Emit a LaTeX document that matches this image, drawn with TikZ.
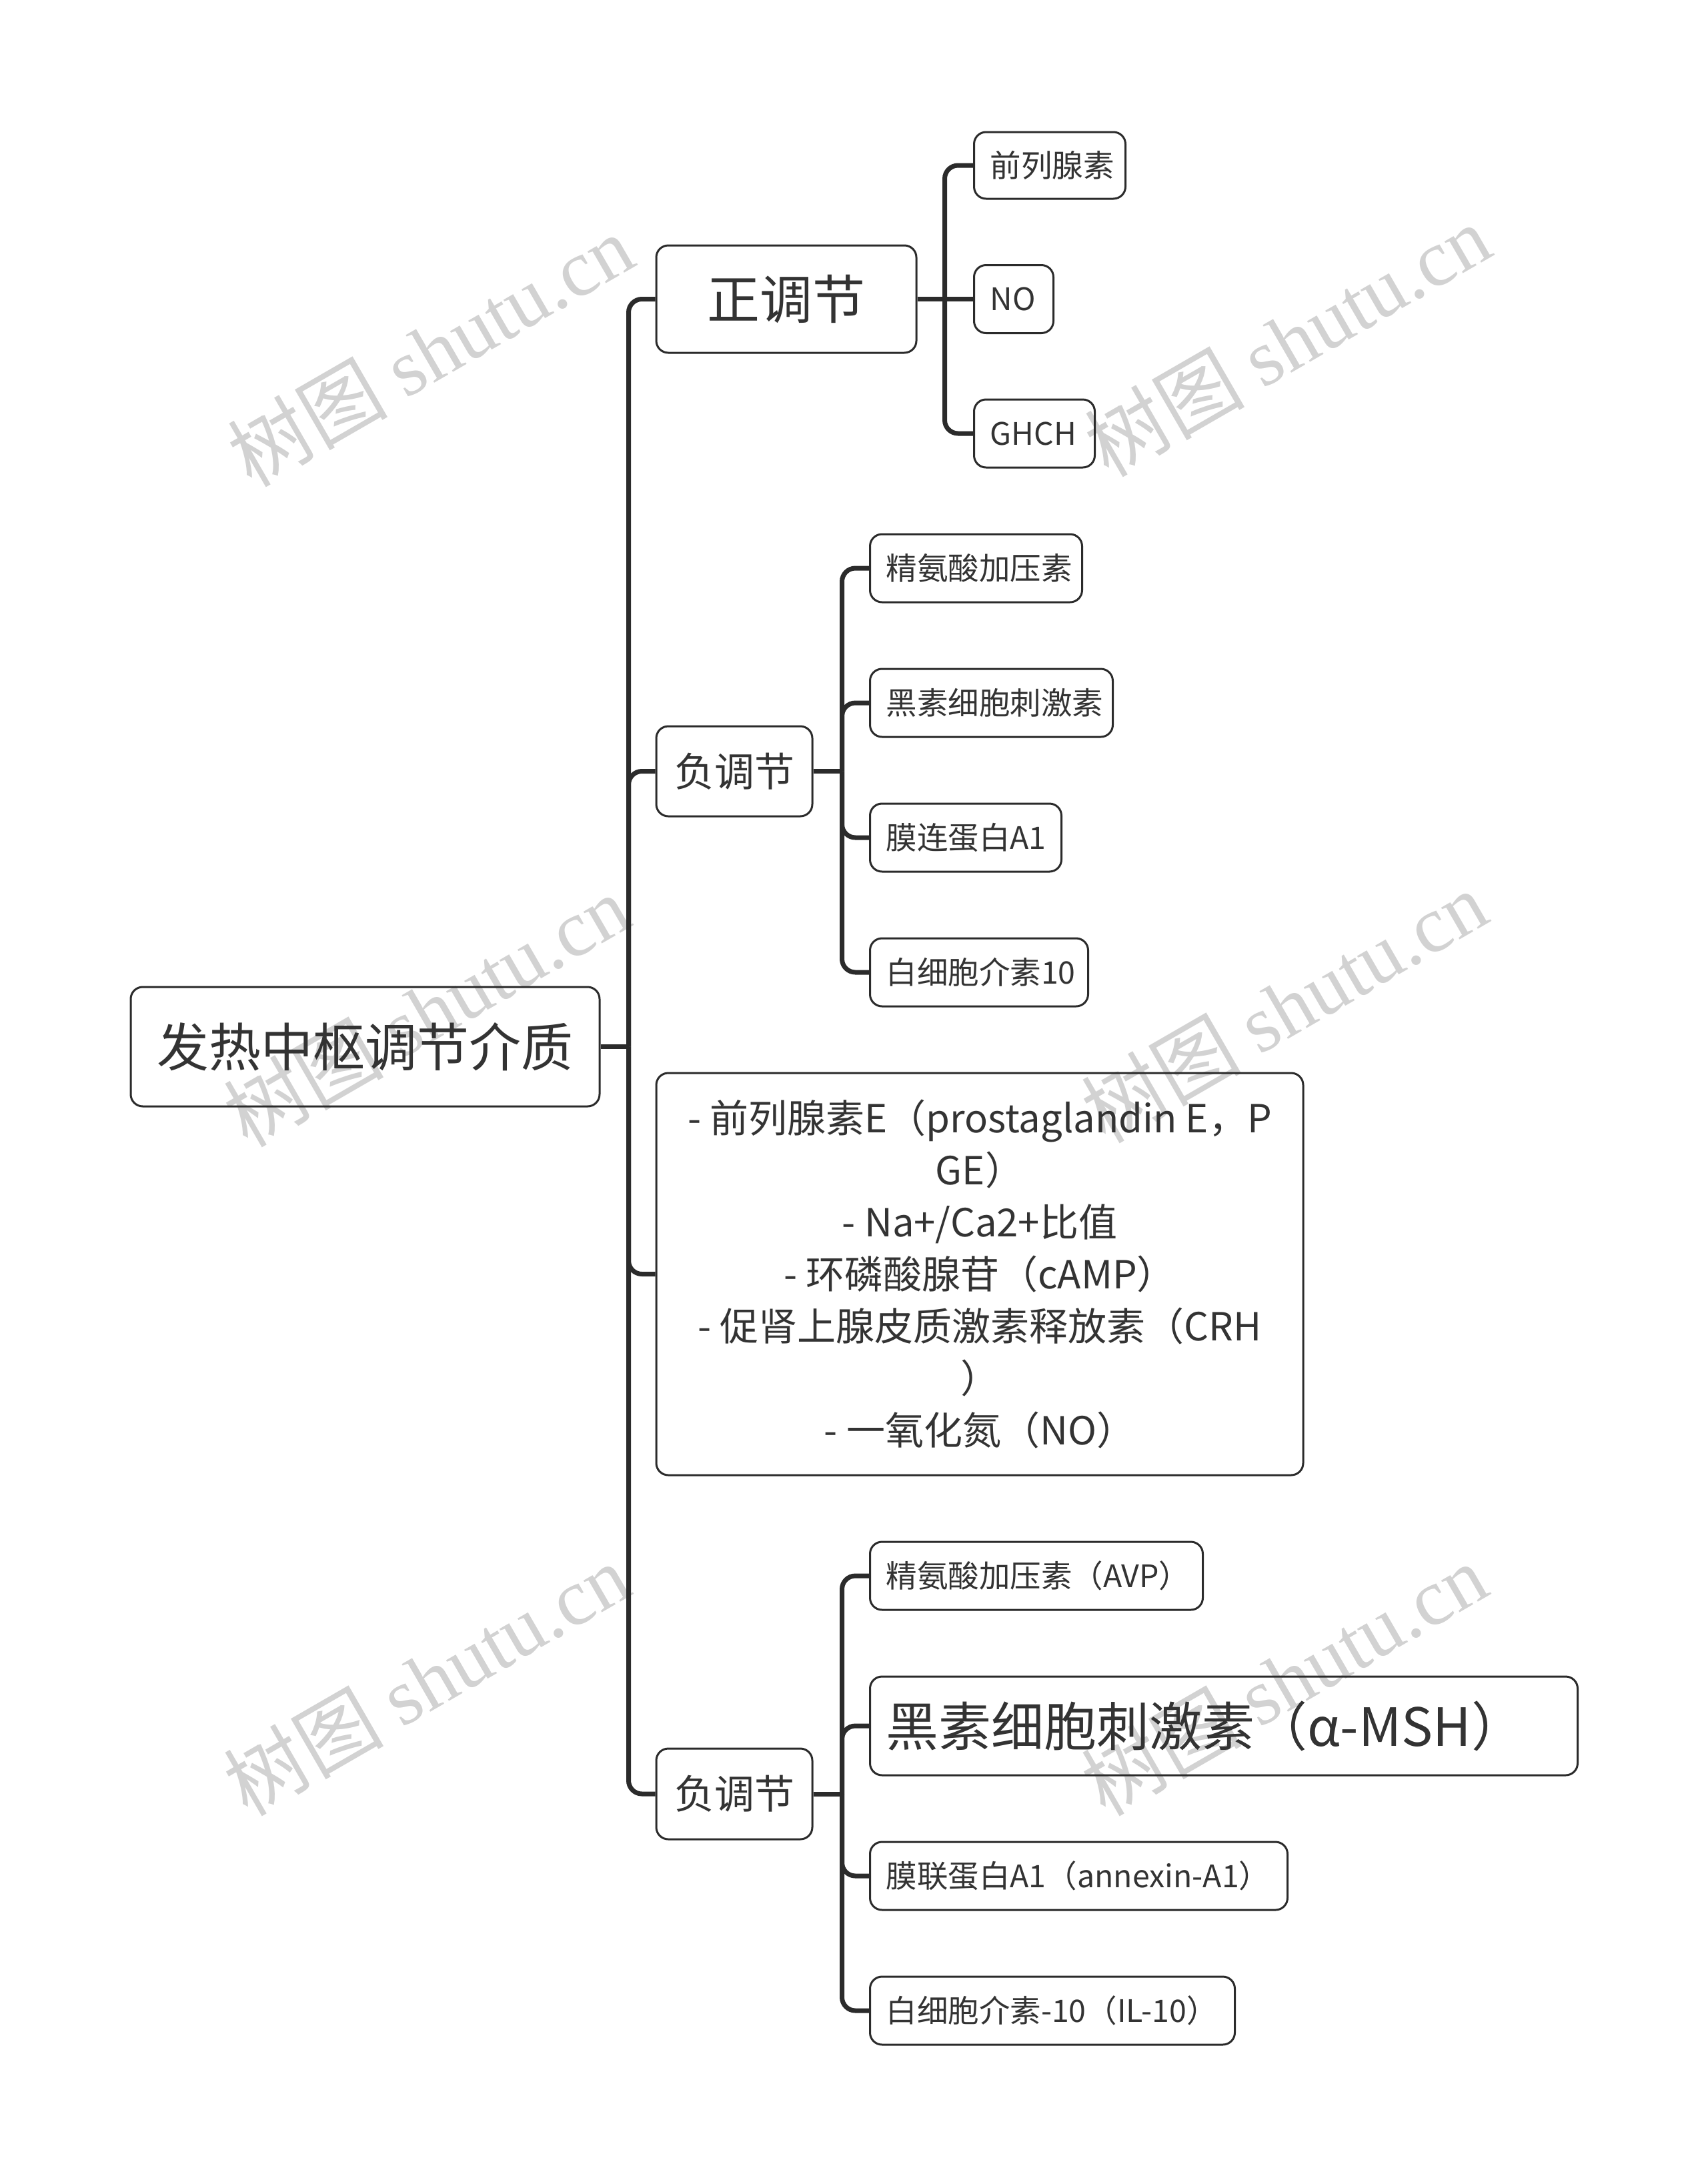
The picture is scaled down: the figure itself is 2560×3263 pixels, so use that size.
\documentclass[tikz,border=0pt]{standalone}
\usepackage{fontspec}
\setmainfont{Noto Sans CJK SC}
\newfontfamily\wmfont{Liberation Serif}
\usetikzlibrary{calc}
\definecolor{ink}{HTML}{2B2B2B}
\definecolor{txt}{HTML}{333333}
\definecolor{wm}{HTML}{D2D2D2}
\begin{document}
\begin{tikzpicture}[x=1pt,y=-1pt,
  box/.style={draw=ink, line width=3pt, rounded corners=18pt, text=txt, inner xsep=24pt, inner ysep=0pt, align=center},
  conn/.style={draw=ink, line width=7pt, rounded corners=20pt},
  straightconn/.style={draw=ink, line width=7pt},
  leafbox/.style={box, anchor=west, align=left, minimum height=102pt, font=\fontsize{46.5}{56}\selectfont},
  bigfont/.style={font=\fontsize{78}{92}\selectfont},
  midfont/.style={font=\fontsize{60}{72}\selectfont},
  wmark/.style={rotate=30, text=wm, font=\fontsize{120}{120}\selectfont}
]
\useasboundingbox (0,0) rectangle (2560,3263);
\fill[white] (0,0) rectangle (2560,3263);

% watermarks
\node[wmark] (w1) at (645,525) {树图 {\wmfont shutu.cn}};
\node[wmark] (w2) at (1930,510) {树图 {\wmfont shutu.cn}};
\node[wmark] (w3) at (639,1515) {树图 {\wmfont shutu.cn}};
\node[wmark] (w4) at (1925,1509) {树图 {\wmfont shutu.cn}};
\node[wmark] (w5) at (639,2518) {树图 {\wmfont shutu.cn}};
\node[wmark] (w6) at (1925,2518) {树图 {\wmfont shutu.cn}};

% root and level 1
\node[box, bigfont, minimum width=703pt, minimum height=179pt] (root) at (547.5,1569.5) {发热中枢调节介质};
\node[box, font=\fontsize{79}{92}\selectfont, minimum width=390pt, minimum height=161pt] (zheng) at (1179,448.5) {正调节};
\node[box, midfont, minimum width=234pt, minimum height=135pt] (fu1) at (1101,1156.5) {负调节};
\node[box, font=\fontsize{58}{78}\selectfont, minimum width=970pt, minimum height=603pt] (tbox) at (1469,1910.5)
  {- 前列腺素E（prostaglandin E，P\\GE）\\- Na+/Ca2+比值\\- 环磷酸腺苷（cAMP）\\- 促肾上腺皮质激素释放素（CRH\\）\\- 一氧化氮（NO）};
\node[box, midfont, minimum width=234pt, minimum height=136pt] (fu2) at (1101,2690) {负调节};

% leaves of 正调节
\node[leafbox, text width=179pt, minimum height=100pt] (a1) at (1459,248) {前列腺素};
\node[leafbox, text width=71pt] (a2) at (1459,448.5) {NO};
\node[leafbox, text width=133pt] (a3) at (1459,650) {GHCH};

% leaves of 负调节 (1)
\node[leafbox, text width=270pt] (b1) at (1303,852) {精氨酸加压素};
\node[leafbox, text width=316pt] (b2) at (1303,1054) {黑素细胞刺激素};
\node[leafbox, text width=239pt] (b3) at (1303,1256) {膜连蛋白A1};
\node[leafbox, text width=279pt] (b4) at (1303,1458) {白细胞介素10};

% leaves of 负调节 (2)
\node[leafbox, text width=451pt] (c1) at (1303,2363) {精氨酸加压素（AVP）};
\node[leafbox, font=\fontsize{79}{92}\selectfont, text width=1013pt, minimum height=148pt] (c2) at (1303,2588) {黑素细胞刺激素（α-MSH）};
\node[leafbox, text width=578pt] (c3) at (1303,2813) {膜联蛋白A1（annexin-A1）};
\node[leafbox, text width=499pt] (c4) at (1303,3015) {白细胞介素-10（IL-10）};

% junction coordinates
\coordinate (jt) at ($(root.east)+(42,0)$);
\coordinate (jz) at ($(zheng.east)+(41,0)$);
\coordinate (jf1) at ($(fu1.east)+(43,0)$);
\coordinate (jf2) at ($(fu2.east)+(43,0)$);

% connectors
\draw[straightconn] (root.east) -- (jt);
\draw[conn] (jt) |- (zheng.west);
\draw[conn] (jt) |- (fu1.west);
\draw[conn] (jt) |- (tbox.west);
\draw[conn] (jt) |- (fu2.west);

\draw[straightconn] (zheng.east) -- (jz);
\draw[conn] (jz) |- (a1.west);
\draw[straightconn] (jz) -- (a2.west);
\draw[conn] (jz) |- (a3.west);

\draw[straightconn] (fu1.east) -- (jf1);
\draw[conn] (jf1) |- (b1.west);
\draw[conn] (jf1) |- (b2.west);
\draw[conn] (jf1) |- (b3.west);
\draw[conn] (jf1) |- (b4.west);

\draw[straightconn] (fu2.east) -- (jf2);
\draw[conn] (jf2) |- (c1.west);
\draw[conn] (jf2) |- (c2.west);
\draw[conn] (jf2) |- (c3.west);
\draw[conn] (jf2) |- (c4.west);
\end{tikzpicture}
\end{document}
